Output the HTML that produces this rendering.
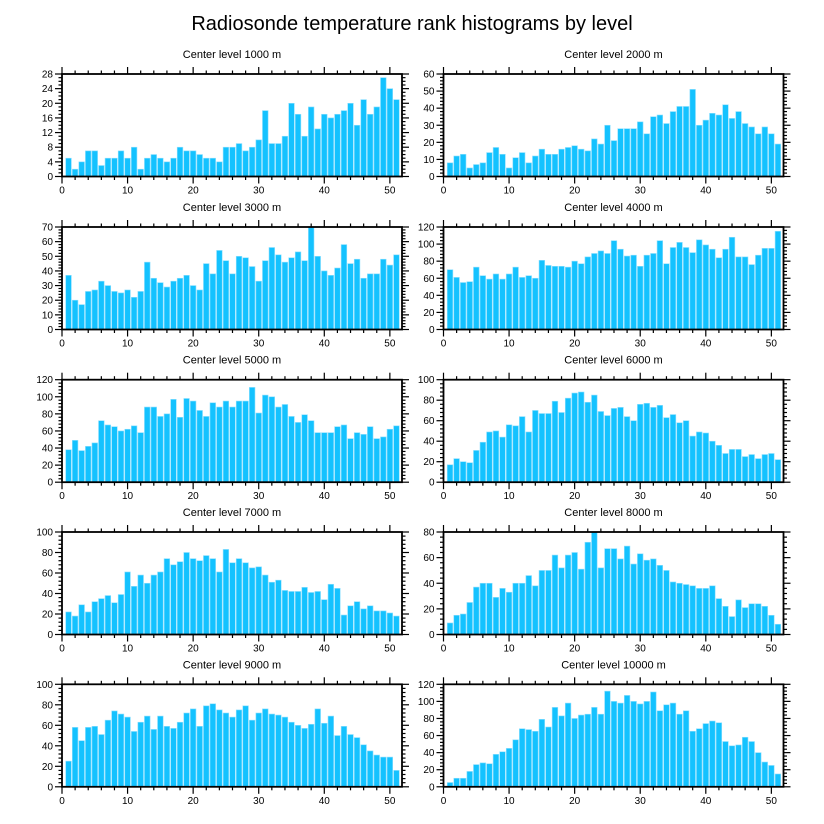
<!DOCTYPE html>
<html><head><meta charset="utf-8"><style>
html,body{margin:0;padding:0;background:#fff;}
svg{display:block;font-family:"Liberation Sans",sans-serif;}
</style></head><body>
<svg id="chart" width="824" height="824" viewBox="0 0 824 824">
<text x="412" y="30" text-anchor="middle" font-size="20">Radiosonde temperature rank histograms by level</text>
</svg>
<script>
const levels = ["1000","2000","3000","4000","5000","6000","7000","8000","9000","10000"];
const yMaxes = [28,60,70,120,120,100,100,80,100,120];
const yMajor = [4,10,10,20,20,20,20,20,20,20];
const yMinor = [1,2,2,4,4,4,4,4,4,4];
const xTicks = [0,10,20,30,40,50];
const s1000 = [5,2,4,7,7,3,5,5,7,5,8,2,5,6,5,4,5,8,7,7,6,5,5,4,8,8,9,7,8,10,18,9,9,11,20,17,11,19,13,17,16,17,18,20,14,21,17,19,27,24,21];
const s2000 = [8,12,13,5,7,8,14,17,13,5,11,14,8,12,16,13,13,16,17,18,16,15,22,19,30,21,28,28,28,32,25,35,36,31,38,41,41,51,30,33,37,36,42,34,38,31,29,25,29,25,19];
const s3000 = [37,20,17,26,27,33,30,26,25,27,22,26,46,35,32,29,33,35,37,30,27,45,38,54,47,38,50,49,43,33,47,56,51,46,49,53,47,70,50,40,37,42,58,45,48,35,38,38,48,44,51];
const s4000 = [70,61,55,56,73,63,59,65,59,65,73,61,63,60,81,75,74,74,73,80,77,85,89,92,89,104,94,86,87,74,87,89,104,77,96,102,96,90,105,99,94,84,94,108,85,85,76,87,95,95,115];
const s5000 = [38,49,37,42,46,72,67,65,60,62,66,58,88,88,77,80,97,76,98,95,84,77,93,88,95,88,95,95,111,81,102,100,88,91,77,70,79,72,58,58,58,65,67,51,58,56,65,51,53,62,66];
const s6000 = [17,23,20,19,31,39,49,50,44,56,55,64,49,70,67,67,79,68,82,87,88,78,85,69,65,72,73,64,60,76,77,73,75,63,66,58,60,45,49,48,40,36,28,32,32,25,27,23,27,28,22];
const s7000 = [22,18,29,22,32,35,38,31,39,61,47,58,50,58,61,74,68,71,80,74,72,77,74,61,83,70,74,70,65,66,58,51,53,43,42,42,46,41,42,34,49,45,19,28,32,25,28,23,23,21,18];
const s8000 = [9,15,16,25,37,40,40,29,36,33,40,40,46,38,50,50,62,52,62,64,51,72,80,52,67,67,59,69,55,63,58,59,54,50,41,40,39,38,36,36,38,28,22,14,27,21,24,24,22,15,8];
const s9000 = [25,58,45,58,59,51,65,74,71,68,54,63,69,56,69,59,57,63,72,76,59,79,81,75,72,68,75,79,65,72,76,71,70,68,63,60,57,61,76,62,69,50,59,51,48,41,35,31,29,29,16];
const s10000 = [5,10,10,18,26,28,27,38,41,45,55,68,67,65,79,70,93,83,98,80,84,85,93,85,112,100,98,107,100,97,100,111,89,96,98,85,89,65,68,74,77,75,53,48,49,58,53,40,29,25,15];
const seriesList = [s1000,s2000,s3000,s4000,s5000,s6000,s7000,s8000,s9000,s10000];

const NS = "http://www.w3.org/2000/svg";
const svg = document.getElementById("chart");
function mk(tag, attrs, parent){
  const e = document.createElementNS(NS, tag);
  for (const k in attrs) e.setAttribute(k, attrs[k]);
  (parent||svg).appendChild(e);
  return e;
}
const colLeft = [62, 443.5];
const plotW = 340;
const rowTop = [74, 227, 379.7, 532, 684.3];
const plotH = 102.5;
const xMax = 51.85;

seriesList.forEach((vals, i) => {
  const col = i % 2, row = Math.floor(i / 2);
  const L = colLeft[col], T = rowTop[row], B = T + plotH, R = L + plotW;
  const ymax = yMaxes[i];
  const xs = v => L + v / xMax * plotW;
  const ys = v => B - v / ymax * plotH;
  const g = mk("g", {});
  
  
  const t = mk("text", {x: L + plotW/2, y: T - 16, "text-anchor": "middle", "font-size": "11"}, g);
  t.textContent = "Center level " + levels[i] + " m";
  
  
  vals.forEach((v, k) => {
    const x = k + 1;
    const r = mk("rect", {x: xs(x - 0.43), y: ys(v), width: xs(x + 0.43) - xs(x - 0.43), height: B - ys(v), fill: "#14c2ff", stroke: "#8fe0ff", "stroke-width": "0.6"}, g);
    
    
  });
  // x ticks
  for (let v = 0; v <= 50; v += 2) {
    const len = (v % 10 === 0) ? 7 : 3.5;
    mk("line", {x1: xs(v), x2: xs(v), y1: B, y2: B + len, stroke: "#000", "stroke-width": "1.2"}, g);
    mk("line", {x1: xs(v), x2: xs(v), y1: T, y2: T - len, stroke: "#000", "stroke-width": "1.2"}, g);
  }
  xTicks.forEach(v => {
    const tt = mk("text", {x: xs(v), y: B + 17, "text-anchor": "middle", "font-size": "10"}, g);
    tt.textContent = v;
    
    
  });
  // y ticks
  for (let v = 0; v <= ymax + 1e-9; v += yMinor[i]) {
    const major = Math.abs(v / yMajor[i] - Math.round(v / yMajor[i])) < 1e-6;
    const len = major ? 7 : 3.5;
    mk("line", {x1: L, x2: L - len, y1: ys(v), y2: ys(v), stroke: "#000", "stroke-width": "1.2"}, g);
    mk("line", {x1: R, x2: R + len, y1: ys(v), y2: ys(v), stroke: "#000", "stroke-width": "1.2"}, g);
    if (major) {
      const yt = mk("text", {x: L - 9, y: ys(v) + 3.5, "text-anchor": "end", "font-size": "10"}, g);
      yt.textContent = v;
      
      
    }
  }
  const box = mk("rect", {x: L, y: T, width: plotW, height: plotH, fill: "none", stroke: "#000", "stroke-width": "1.8"}, g);
  
  
});
</script>
</body></html>
